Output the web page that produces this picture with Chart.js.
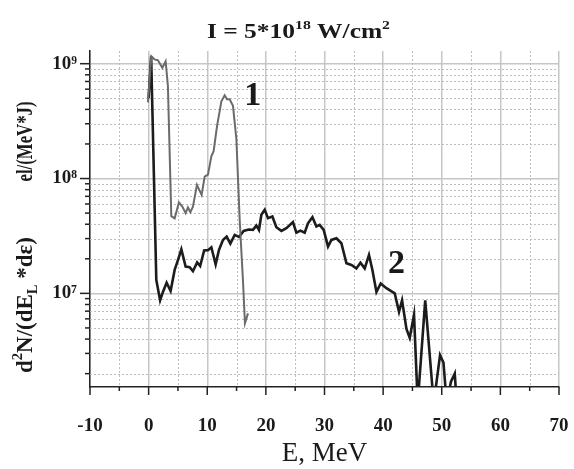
<!DOCTYPE html>
<html><head><meta charset="utf-8">
<script src="https://cdn.jsdelivr.net/npm/chart.js@4/dist/chart.umd.min.js"></script>
<style>html,body{margin:0;padding:0;background:#fff}#wrap{width:574px;height:469px}</style>
</head><body><div id="wrap"><canvas id="c" width="574" height="469"></canvas></div>
<script>
// ---- data ----
const energy1 = [-0.12, 0.46, 1.02, 1.59, 2.34, 2.90, 3.29, 3.87, 4.44, 5.17, 5.75, 6.31, 6.71, 7.12, 7.56, 8.24, 9.04, 9.56, 10.12, 10.70, 11.09, 11.66, 12.41, 12.97, 13.36, 13.82, 14.39, 14.97, 15.53, 16.09, 16.43, 16.95];
const spectrum1 = [4.6e8, 1.16e9, 1.09e9, 1.07e9, 9.2e8, 1.05e9, 6.4e8, 4.7e7, 4.5e7, 6.2e7, 5.7e7, 5.0e7, 5.6e7, 5.1e7, 5.7e7, 8.8e7, 7.2e7, 1.04e8, 1.08e8, 1.56e8, 1.73e8, 2.85e8, 4.7e8, 5.3e8, 4.9e8, 4.9e8, 4.3e8, 2.2e8, 4.4e7, 1.3e7, 5.5e6, 6.7e6];
const energy2 = [0.0, 0.43, 1.31, 1.96, 2.44, 3.07, 3.75, 4.44, 5.00, 5.58, 6.31, 6.99, 7.56, 8.28, 8.79, 9.47, 10.12, 10.70, 11.43, 11.99, 12.68, 13.31, 13.94, 14.68, 15.41, 16.21, 17.06, 17.80, 18.38, 18.82, 19.23, 19.80, 20.36, 21.11, 21.79, 22.65, 23.50, 24.62, 25.20, 25.89, 26.62, 27.18, 27.94, 28.62, 29.18, 29.86, 30.60, 31.18, 32.03, 32.88, 33.74, 34.59, 35.44, 36.13, 36.86, 37.59, 38.17, 38.86, 39.59, 40.56, 41.98, 42.71, 43.23, 43.98, 44.54, 45.27, 45.90, 47.18, 48.63, 49.71, 50.29, 50.85, 51.57, 52.22, 52.56];
const spectrum2 = [5.0e8, 1.16e9, 1.31e7, 8.7e6, 1.03e7, 1.24e7, 1.05e7, 1.60e7, 1.95e7, 2.42e7, 1.71e7, 1.69e7, 1.56e7, 1.86e7, 1.73e7, 2.36e7, 2.38e7, 2.52e7, 1.79e7, 2.38e7, 2.92e7, 3.12e7, 2.71e7, 3.23e7, 3.10e7, 3.50e7, 3.60e7, 3.57e7, 3.89e7, 3.57e7, 4.83e7, 5.34e7, 4.52e7, 4.67e7, 3.77e7, 3.50e7, 3.70e7, 4.17e7, 3.38e7, 3.52e7, 3.38e7, 4.08e7, 4.61e7, 3.82e7, 3.95e7, 3.57e7, 2.55e7, 2.92e7, 3.02e7, 2.73e7, 1.83e7, 1.77e7, 1.65e7, 1.85e7, 1.65e7, 2.16e7, 1.60e7, 1.03e7, 1.22e7, 1.11e7, 1.0e7, 6.9e6, 8.7e6, 4.9e6, 4.1e6, 6.5e6, 1.1e6, 8.7e6, 1.1e6, 2.9e6, 2.5e6, 1.1e6, 1.7e6, 2.0e6, 1.1e6];
const xTickValues = [-10, -5, 0, 5, 10, 15, 20, 25, 30, 35, 40, 45, 50, 55, 60, 65, 70];
const yDecades = [6, 7, 8, 9];
const yMantissas = [1, 2, 3, 4, 5, 6, 7, 8, 9];
const curveLabels = ['1', '2'];
const curveLabelE = [17.75, 42.3];
const curveLabelV = [4.4e8, 1.5e7];
const titleParts = [['I = 5*10', 0], ['18', 1], [' W/cm', 0], ['2', 1]];
const yTitleA = [['d', 0], ['2', 1], ['N/(dE', 0], ['L', 2], [' *d\u03B5)', 0]];
const yTitleB = [['el/(MeV*J)', 0]];
const xTitle = 'E, MeV';

// ---- helpers ----
const SUP = {'0':'\u2070','1':'\u00B9','2':'\u00B2','3':'\u00B3','4':'\u2074','5':'\u2075','6':'\u2076','7':'\u2077','8':'\u2078','9':'\u2079'};
const FONT = '"Liberation Serif", "Times New Roman", serif';
const X_MIN = -10, X_MAX = 70, Y_MIN = 1.53e6, Y_MAX = 1.29e9;
function isDecade(v) { const n = Math.round(Math.log10(v)); return Math.abs(v / Math.pow(10, n) - 1) < 1e-6; }
const yTickValues = [];
yDecades.forEach(n => yMantissas.forEach(m => { const v = m * Math.pow(10, n); if (v >= Y_MIN && v <= Y_MAX) yTickValues.push(v); }));

function drawRich(ctx, segs, size, weight, targetW, thick) {
  const widths = segs.map(([t, k]) => {
    ctx.font = `${weight} ${k ? Math.round(size * 0.62) : size}px ${FONT}`;
    return ctx.measureText(t).width;
  });
  const total = widths.reduce((a, b) => a + b, 0);
  const s = targetW ? targetW / total : 1;
  ctx.save();
  ctx.scale(s, thick || 1);
  let x = -total / 2;
  ctx.textBaseline = 'alphabetic';
  ctx.textAlign = 'left';
  segs.forEach(([t, k], i) => {
    ctx.font = `${weight} ${k ? Math.round(size * 0.62) : size}px ${FONT}`;
    const dy = k === 1 ? -size * 0.42 : (k === 2 ? size * 0.22 : 0);
    ctx.fillText(t, x, dy);
    x += widths[i];
  });
  ctx.restore();
}

const decorPlugin = {
  id: 'decor',
  beforeDatasetsDraw(chart) {
    const {ctx, chartArea: a, scales: {x, y}} = chart;
    ctx.save();
    ctx.strokeStyle = '#bdbdbd';
    ctx.lineWidth = 1;
    ctx.setLineDash([2, 2]);
    yTickValues.filter(v => !isDecade(v)).forEach(v => {
      const py = Math.round(y.getPixelForValue(v)) + 0.5;
      ctx.beginPath(); ctx.moveTo(a.left, py); ctx.lineTo(a.right, py); ctx.stroke();
    });
    xTickValues.filter(v => v % 10 !== 0).forEach(v => {
      const px = Math.round(x.getPixelForValue(v)) + 0.5;
      ctx.beginPath(); ctx.moveTo(px, a.top); ctx.lineTo(px, a.bottom); ctx.stroke();
    });
    ctx.restore();
  },
  afterDraw(chart) {
    const {ctx, chartArea: a, scales: {x, y}} = chart;
    ctx.save();
    ctx.strokeStyle = '#222'; ctx.lineWidth = 1.5;
    yTickValues.forEach(v => {
      const py = y.getPixelForValue(v);
      const len = isDecade(v) ? 10 : 5;
      ctx.beginPath(); ctx.moveTo(a.left - len, py); ctx.lineTo(a.left, py); ctx.stroke();
    });
    xTickValues.forEach(v => {
      const px = x.getPixelForValue(v);
      const len = v % 10 === 0 ? 8 : 4;
      ctx.beginPath(); ctx.moveTo(px, a.bottom); ctx.lineTo(px, a.bottom + len); ctx.stroke();
    });
    ctx.fillStyle = '#1a1a1a';
    ctx.save(); ctx.translate(298.5, 37.5); drawRich(ctx, titleParts, 21, 'bold', 183); ctx.restore();
    ctx.save(); ctx.translate(32, 305); ctx.rotate(-Math.PI / 2); drawRich(ctx, yTitleA, 19, 'bold', 136, 1.2); ctx.restore();
    ctx.save(); ctx.translate(32, 141.5); ctx.rotate(-Math.PI / 2); drawRich(ctx, yTitleB, 19, 'bold', 80, 1.2); ctx.restore();
    ctx.font = `bold 34px ${FONT}`; ctx.textAlign = 'center'; ctx.textBaseline = 'alphabetic';
    curveLabels.forEach((t, i) => ctx.fillText(t, x.getPixelForValue(curveLabelE[i]), y.getPixelForValue(curveLabelV[i])));
    ctx.restore();
  }
};

new Chart(document.getElementById('c'), {
  type: 'line',
  data: {
    datasets: [
      { label: '1', data: energy1.map((e, i) => ({x: e, y: spectrum1[i]})), borderColor: '#6b6b6b', borderWidth: 2, pointRadius: 0, tension: 0, fill: false },
      { label: '2', data: energy2.map((e, i) => ({x: e, y: spectrum2[i]})), borderColor: '#1c1c1c', borderWidth: 2.6, pointRadius: 0, tension: 0, fill: false }
    ]
  },
  options: {
    responsive: false, animation: false, devicePixelRatio: 1,
    layout: { padding: { top: 51, right: 15, left: 0, bottom: 0 } },
    plugins: { legend: { display: false }, title: { display: false }, tooltip: { enabled: false } },
    scales: {
      x: {
        type: 'linear', min: X_MIN, max: X_MAX,
        afterBuildTicks: s => { s.ticks = xTickValues.map(v => ({value: v})); },
        afterFit: s => { s.height = 82; s.paddingLeft = 0; s.paddingRight = 0; },
        ticks: { autoSkip: false, maxRotation: 0, padding: 28, color: '#1a1a1a',
          font: { family: FONT, size: 19, weight: 'bold' },
          callback: v => (v % 10 === 0 ? String(v) : '') },
        grid: { drawTicks: false, lineWidth: 1.5,
          color: c => (c.tick && c.tick.value % 10 === 0 ? '#c6c6c6' : 'rgba(0,0,0,0)') },
        border: { display: true, color: '#222', width: 1.5 },
        title: { display: true, text: xTitle, color: '#1a1a1a', font: { family: FONT, size: 27, weight: 'normal', lineHeight: 1 }, padding: { top: 0, bottom: 1.5 } }
      },
      y: {
        type: 'logarithmic', min: Y_MIN, max: Y_MAX,
        afterBuildTicks: s => { s.ticks = yTickValues.map(v => ({value: v})); },
        afterFit: s => { s.width = 90; s.paddingTop = 0; s.paddingBottom = 0; },
        ticks: { autoSkip: false, padding: 13, color: '#1a1a1a',
          font: { family: FONT, size: 19, weight: 'bold' },
          callback: v => (isDecade(v) ? '10' + String(Math.round(Math.log10(v))).split('').map(d => SUP[d]).join('') : '') },
        grid: { drawTicks: false, lineWidth: 1.5,
          color: c => (c.tick && isDecade(c.tick.value) ? '#c6c6c6' : 'rgba(0,0,0,0)') },
        border: { display: true, color: '#222', width: 1.5 }
      }
    }
  },
  plugins: [decorPlugin]
});
</script>
</body></html>
